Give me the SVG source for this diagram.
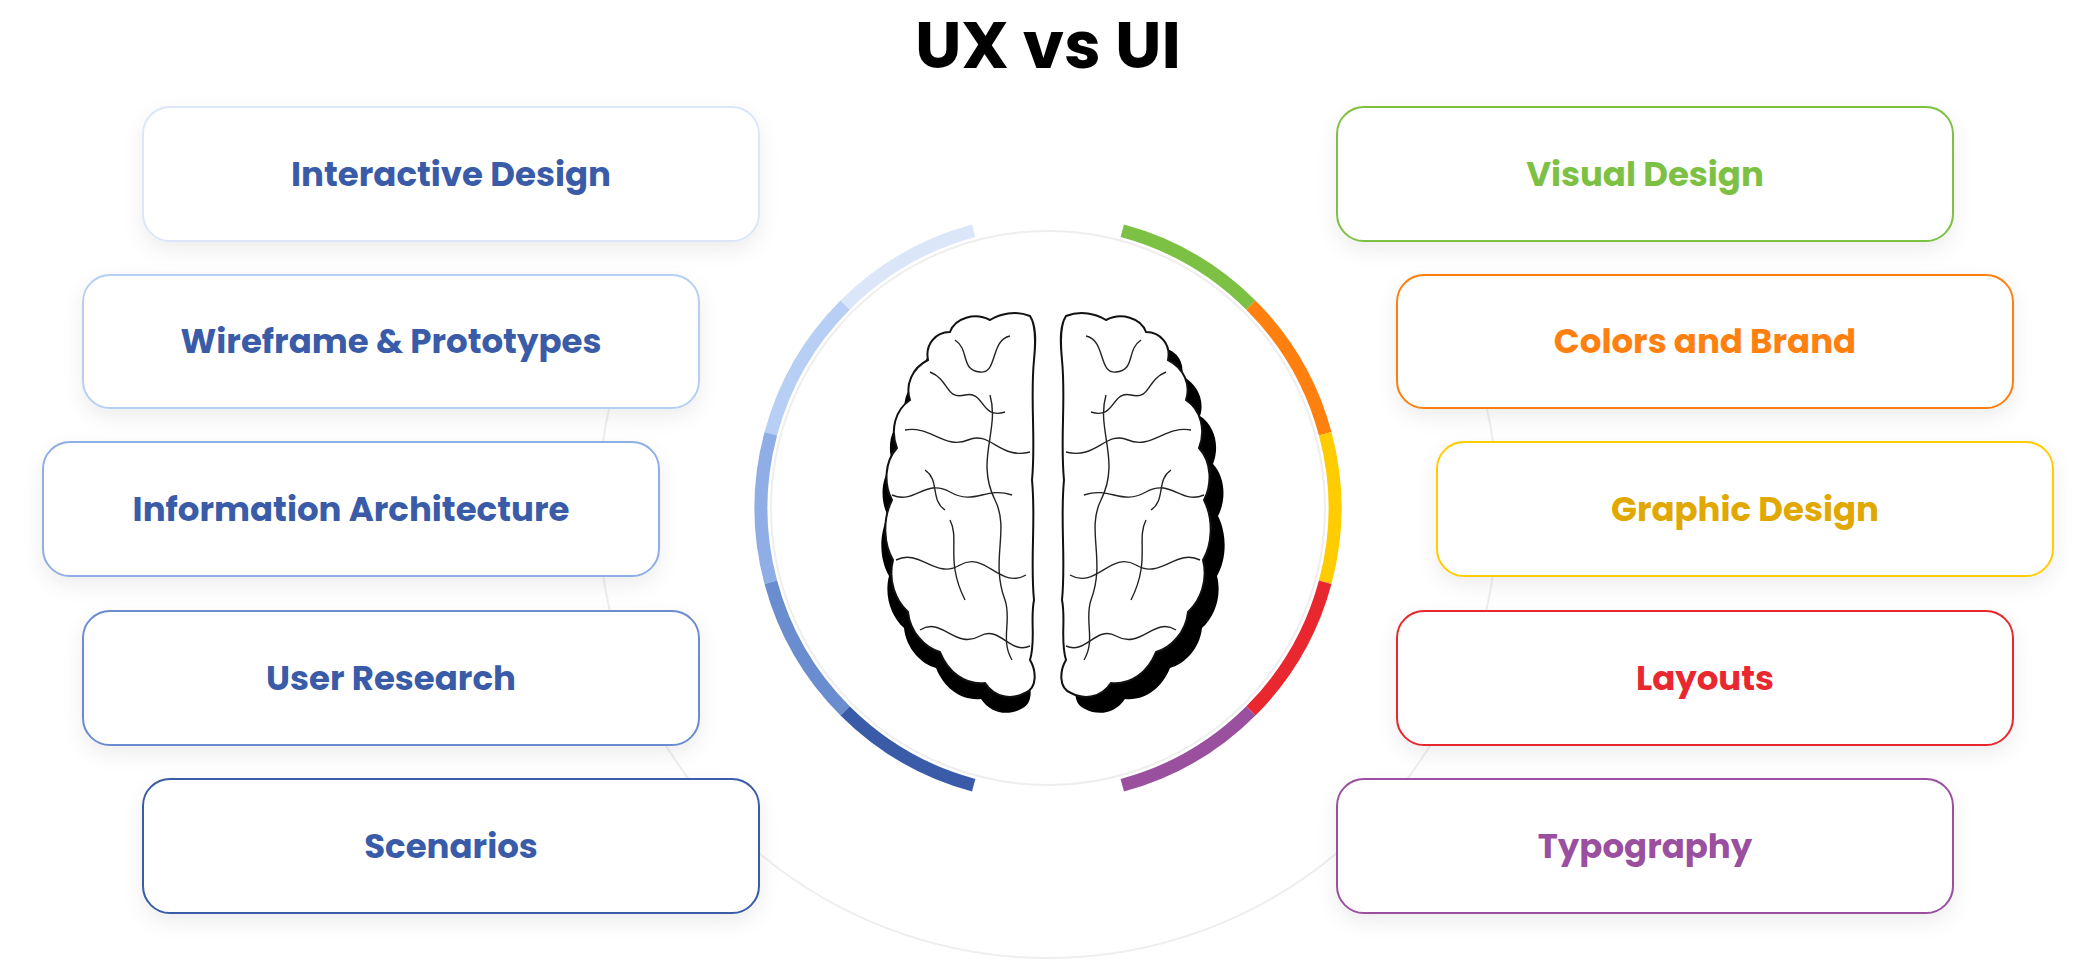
<svg xmlns="http://www.w3.org/2000/svg" width="2096" height="976" viewBox="0 0 2096 976">
<defs>
<filter id="sh" x="-10%" y="-30%" width="120%" height="170%"><feDropShadow dx="0" dy="8" stdDeviation="10" flood-color="#000" flood-opacity="0.07"/></filter>
<style>
.box{fill:#fff;stroke-width:2;filter:url(#sh)}
.t{font-family:Poppins,"Open Sans","Liberation Sans",sans-serif;font-weight:700;font-size:34px;text-anchor:middle;dominant-baseline:central}
.arc{fill:none;stroke-width:13}
.fold{fill:none;stroke:#222;stroke-width:1.4}
.hemi{fill:#fff;stroke:#111;stroke-width:2}
</style>
<path id="hemi-shape" d="M1030,316 C1015,310 1000,314 990,320 C975,312 955,318 950,332 C935,332 925,345 928,360 C912,368 905,385 910,400 C895,410 890,430 897,448 C884,462 884,485 892,500 C882,520 884,545 893,560 C888,580 895,600 908,612 C910,632 925,648 940,652 C948,672 965,685 985,683 C995,698 1012,700 1025,693 C1038,688 1036,670 1030,660 C1036,640 1030,620 1034,600 C1030,560 1036,520 1032,480 C1036,440 1030,400 1034,360 C1036,340 1036,325 1030,316 Z"/>
</defs>
<rect width="2096" height="976" fill="#fff"/>
<path d="M1437.7,283 A450,450 0 1 1 658.3,283" fill="none" stroke="#eeeeee" stroke-width="2"/>
<circle cx="1048" cy="508" r="277" fill="none" stroke="#eeeeee" stroke-width="2"/>
<text x="1048" y="45" font-family="Poppins,Inter,'Liberation Sans',sans-serif" font-weight="700" font-size="66" text-anchor="middle" dominant-baseline="central" fill="#000">UX vs UI</text>
<g id="connectors">
<path class="arc" stroke="#dbe7f8" d="M845.1,305.1 A287,287 0 0 1 973.7,230.8"/>
<path class="arc" stroke="#b7cff5" d="M770.8,433.7 A287,287 0 0 1 845.1,305.1"/>
<path class="arc" stroke="#8eaee5" d="M770.8,582.3 A287,287 0 0 1 770.8,433.7"/>
<path class="arc" stroke="#6a8dcf" d="M845.1,710.9 A287,287 0 0 1 770.8,582.3"/>
<path class="arc" stroke="#3a5ca8" d="M973.7,785.2 A287,287 0 0 1 845.1,710.9"/>
<path class="arc" stroke="#7cc143" d="M1122.3,230.8 A287,287 0 0 1 1250.9,305.1"/>
<path class="arc" stroke="#ff7f0f" d="M1250.9,305.1 A287,287 0 0 1 1325.2,433.7"/>
<path class="arc" stroke="#ffcc00" d="M1325.2,433.7 A287,287 0 0 1 1325.2,582.3"/>
<path class="arc" stroke="#e8282e" d="M1325.2,582.3 A287,287 0 0 1 1250.9,710.9"/>
<path class="arc" stroke="#9b4f9f" d="M1250.9,710.9 A287,287 0 0 1 1122.3,785.2"/>
</g>
<g id="brain">
<g id="brain-left">
<use href="#hemi-shape" fill="#000" transform="translate(-4,16)"/>
<use href="#hemi-shape" class="hemi"/>
<path class="fold" d="M955,340 C970,350 960,370 980,372 C998,374 990,340 1010,336"/>
<path class="fold" d="M930,372 C950,380 945,400 965,395 C985,390 980,420 1005,412"/>
<path class="fold" d="M905,430 C930,425 945,450 968,440 C990,430 1000,460 1030,452"/>
<path class="fold" d="M892,495 C915,505 925,478 950,492 C975,506 985,486 1012,495"/>
<path class="fold" d="M896,560 C920,548 935,580 960,565 C985,550 1000,590 1026,575"/>
<path class="fold" d="M920,630 C942,616 955,650 980,636 C1000,625 1010,655 1030,646"/>
<path class="fold" d="M990,395 C1000,430 975,460 995,500 C1010,530 990,560 1005,600 C1012,620 1000,640 1012,660"/>
<path class="fold" d="M950,520 C960,540 945,560 965,600"/>
<path class="fold" d="M925,470 C940,480 930,500 945,510"/>
</g>
<g id="brain-right" transform="translate(2096,0) scale(-1,1)">
<use href="#hemi-shape" fill="#000" transform="translate(-14,16)"/>
<use href="#hemi-shape" class="hemi"/>
<path class="fold" d="M955,340 C970,350 960,370 980,372 C998,374 990,340 1010,336"/>
<path class="fold" d="M930,372 C950,380 945,400 965,395 C985,390 980,420 1005,412"/>
<path class="fold" d="M905,430 C930,425 945,450 968,440 C990,430 1000,460 1030,452"/>
<path class="fold" d="M892,495 C915,505 925,478 950,492 C975,506 985,486 1012,495"/>
<path class="fold" d="M896,560 C920,548 935,580 960,565 C985,550 1000,590 1026,575"/>
<path class="fold" d="M920,630 C942,616 955,650 980,636 C1000,625 1010,655 1030,646"/>
<path class="fold" d="M990,395 C1000,430 975,460 995,500 C1010,530 990,560 1005,600 C1012,620 1000,640 1012,660"/>
<path class="fold" d="M950,520 C960,540 945,560 965,600"/>
<path class="fold" d="M925,470 C940,480 930,500 945,510"/>
</g>
</g>
<g id="n-interactive"><rect class="box" x="143" y="107" width="616" height="134" rx="27" stroke="#dbe7f8"/><text class="t" x="451" y="174" fill="#3a5ca8">Interactive Design</text></g>
<g id="n-wireframe"><rect class="box" x="83" y="275" width="616" height="133" rx="27" stroke="#b7cff5"/><text class="t" x="391" y="341" fill="#3a5ca8">Wireframe &amp; Prototypes</text></g>
<g id="n-info"><rect class="box" x="43" y="442" width="616" height="134" rx="27" stroke="#8eaee5"/><text class="t" x="351" y="509" fill="#3a5ca8">Information Architecture</text></g>
<g id="n-research"><rect class="box" x="83" y="611" width="616" height="134" rx="27" stroke="#6a8dcf"/><text class="t" x="391" y="678" fill="#3a5ca8">User Research</text></g>
<g id="n-scenarios"><rect class="box" x="143" y="779" width="616" height="134" rx="27" stroke="#3a5ca8"/><text class="t" x="451" y="846" fill="#3a5ca8">Scenarios</text></g>
<g id="n-visual"><rect class="box" x="1337" y="107" width="616" height="134" rx="27" stroke="#7cc143"/><text class="t" x="1645" y="174" fill="#7cc143">Visual Design</text></g>
<g id="n-colors"><rect class="box" x="1397" y="275" width="616" height="133" rx="27" stroke="#ff7f0f"/><text class="t" x="1705" y="341" fill="#ff7f0f">Colors and Brand</text></g>
<g id="n-graphic"><rect class="box" x="1437" y="442" width="616" height="134" rx="27" stroke="#ffcc00"/><text class="t" x="1745" y="509" fill="#e0a800">Graphic Design</text></g>
<g id="n-layouts"><rect class="box" x="1397" y="611" width="616" height="134" rx="27" stroke="#e8282e"/><text class="t" x="1705" y="678" fill="#e8282e">Layouts</text></g>
<g id="n-typo"><rect class="box" x="1337" y="779" width="616" height="134" rx="27" stroke="#9b4f9f"/><text class="t" x="1645" y="846" fill="#9b4f9f">Typography</text></g>
</svg>
